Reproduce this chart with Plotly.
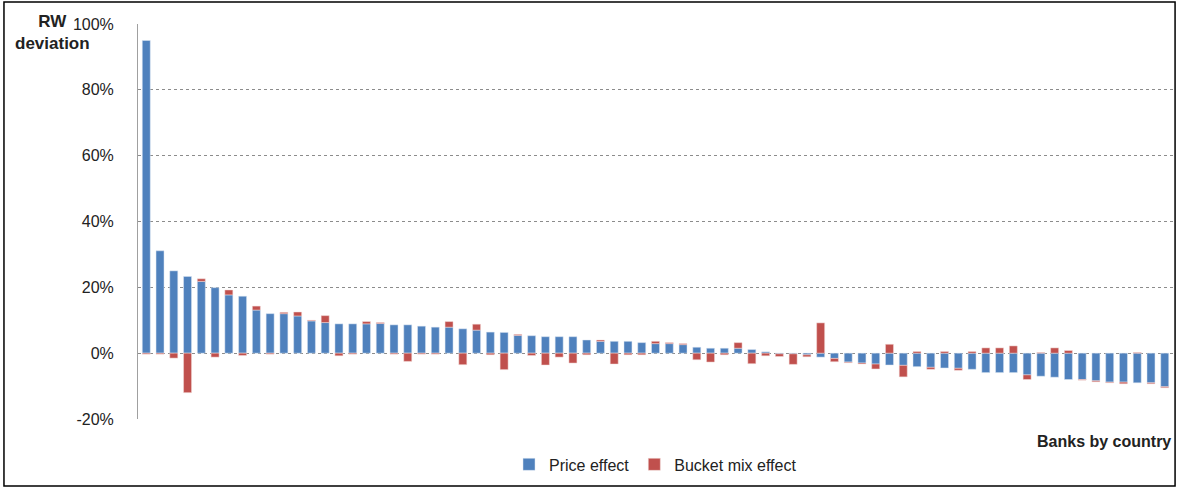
import plotly.graph_objects as go

banks = list(range(1, 76))

price_effect = [
    95, 31.1, 25, 23.3, 21.8, 19.9, 17.7, 17.3, 13.1, 12,
    12, 11.3, 9.8, 9.3, 8.9, 8.9, 8.9, 9, 8.6, 8.6,
    8.2, 7.9, 7.9, 7.4, 7, 6.4, 6.3, 5.4, 5.3, 5,
    5, 5, 4, 3.6, 3.6, 3.6, 3.2, 2.9, 2.9, 2.6,
    1.8, 1.5, 1.5, 1.5, 1.1, 0.4, -0.2, -0.2, -0.5, -1.2,
    -1.6, -2.7, -3, -3.3, -3.6, -3.7, -4.1, -4.3, -4.5, -4.6,
    -4.9, -5.9, -5.9, -5.9, -6.6, -7, -7.3, -8, -8, -8.4,
    -8.8, -8.8, -9, -9, -10.2,
]
bucket_mix_effect = [
    -0.3, -0.3, -1.5, -12, 0.8, -1.2, 1.5, -0.7, 1.2, -0.3,
    0.4, 1.2, 0.2, 2.1, -0.8, -0.3, 0.7, 0.3, -0.3, -2.5,
    -0.3, -0.3, 1.7, -3.5, 1.8, -0.5, -5, 0.3, -0.7, -3.6,
    -1.2, -3, -0.5, 0.4, -3.3, -0.5, -0.5, 0.7, 0.3, 0.3,
    -2, -2.7, -0.5, 1.7, -3.2, -0.8, -0.8, -3.2, -0.6, 9.2,
    -1.0, -0.2, -0.3, -1.5, 2.7, -3.5, 0.5, -0.6, 0.5, -0.6,
    0.5, 1.6, 1.6, 2.2, -1.4, 0.2, 1.6, 0.8, -0.2, -0.3,
    -0.2, -0.5, 0.2, -0.3, -0.3,
]

fig = go.Figure()
fig.add_trace(go.Bar(x=banks, y=price_effect, name="Price effect",
                     marker=dict(color="#4F81BD", line=dict(color="#dce6f2", width=0.5))))
fig.add_trace(go.Bar(x=banks, y=bucket_mix_effect, name="Bucket mix effect",
                     marker=dict(color="#C0504D", line=dict(color="#f2dcdb", width=0.5))))

fig.update_layout(
    barmode="relative",
    bargap=0.42,
    width=1178, height=488,
    margin=dict(l=138, r=5, t=24, b=69, autoexpand=False),
    plot_bgcolor="white", paper_bgcolor="white",
    font=dict(family="Liberation Sans, Arial", size=16, color="#222"),
    showlegend=True,
    legend=dict(orientation="h", x=0.5, xanchor="center", y=-0.072, yanchor="top",
                font=dict(size=16), bgcolor="rgba(0,0,0,0)"),
    xaxis=dict(showticklabels=False, showgrid=False, zeroline=False, showline=False,
               range=[0.4, 75.6], automargin=False),
    yaxis=dict(range=[-20, 100], tickvals=[-20, 0, 20, 40, 60, 80, 100],
               ticktext=["-20%", "0%", "20%", "40%", "60%", "80%", "100%"],
               showgrid=True, gridcolor="#8c8c8c", griddash="dot", gridwidth=1,
               zeroline=False, showline=True, linecolor="#a0a0a0", ticks="",
               ticklabelstandoff=20, automargin=False),
    shapes=[dict(type="rect", xref="paper", yref="paper", x0=-0.1295, x1=1.002,
                 y0=-0.1696, y1=1.0557, line=dict(color="black", width=1.5))],
    annotations=[
        dict(text="<b>RW<br>deviation</b>", xref="paper", yref="paper", x=-0.083,
             y=1.035, xanchor="center", yanchor="top", showarrow=False, align="center",
             font=dict(size=17)),
        dict(text="<b>Banks by country</b>", xref="paper", yref="paper", x=1.0,
             y=-0.03, xanchor="right", yanchor="top", showarrow=False,
             font=dict(size=16)),
    ],
)

fig.write_html("out.html", config={"displayModeBar": False},
               post_script="document.body.style.margin='0';")
